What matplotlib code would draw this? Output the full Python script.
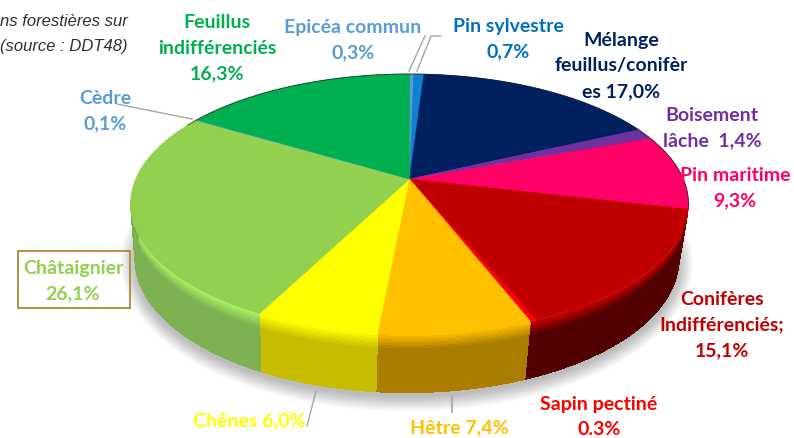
import matplotlib
matplotlib.use("Agg")
import matplotlib.pyplot as plt
import numpy as np
from matplotlib.colors import to_rgb

plt.rcParams["font.family"] = ["Lato", "DejaVu Sans"]

# clockwise from 12 o'clock
categories = ["Epicéa commun", "Pin sylvestre", "Mélange feuillus/conifères", "Boisement lâche",
              "Pin maritime", "Conifères Indifférenciés", "Sapin pectiné", "Hêtre", "Chênes",
              "Châtaignier", "Cèdre", "Feuillus indifférenciés"]
values = [0.3, 0.7, 17.0, 1.4, 9.3, 15.1, 0.3, 7.4, 6.0, 26.1, 0.1, 16.3]
top_colors = ["#5B9BD5", "#0F7FD0", "#002060", "#7030A0", "#FF0066", "#C00000", "#FF0000",
              "#FFC000", "#FFFF00", "#92D050", "#5B9BD5", "#00B050"]
bevel_colors = ["#5B9BD5", "#0F7FD0", "#002060", "#7030A0", "#FF0066", "#C80000", "#C80000",
                "#FFC000", "#FFFF00", "#A8F060", "#5B9BD5", "#00B050"]
side_colors = ["#3A6A95", "#0A5590", "#001540", "#4A2070", "#A00040", "#520000", "#520000",
               "#AA7C00", "#C8BC00", "#7CB050", "#3A6A95", "#007A38"]

labels = [
    ("Feuillus\nindifférenciés\n16,3%", 217, 48, "#00B050"),
    ("Epicéa commun\n0,3%", 353, 40, "#5B9BD5"),
    ("Pin sylvestre\n0,7%", 508, 39, "#0070C0"),
    ("Mélange\nfeuillus/conifèr\nes 17,0%", 621, 66, "#002060"),
    ("Cèdre\n0,1%", 105, 111, "#5B9BD5"),
    ("Boisement\nlâche  1,4%", 712, 128, "#7030A0"),
    ("Pin maritime\n9,3%", 735, 188, "#FF0066"),
    ("Conifères\nIndifférenciés;\n15,1%", 722, 325, "#C00000"),
    ("Châtaignier\n26,1%", 73, 281, "#92D050"),
    ("Chênes 6,0%", 249, 421, "#FFFF00"),
    ("Hêtre 7,4%", 459, 428, "#FFC000"),
    ("Sapin pectiné\n0.3%", 599, 417, "#FF0000"),
]
subtitle = ["ns forestières sur", "(source : DDT48)"]


def rim(angle, cx, cy, a, b, k=0.192):
    # circle seen in perspective, angle in radians clockwise from the back
    u, v = np.sin(angle), np.cos(angle)
    w = 1 + k * v
    return cx + a * u / w, cy - b * v / w


def mix(c1, c2, t):
    c1, c2 = np.array(to_rgb(c1)), np.array(to_rgb(c2))
    return tuple(c1 + (c2 - c1) * t)


fig = plt.figure(figsize=(7.94, 4.39), dpi=100)
ax = fig.add_axes([0, 0, 1, 1])
ax.set_xlim(0, 794)
ax.set_ylim(439, 0)
ax.axis("off")

# soft shadow under the disc
t = np.linspace(0, 2 * np.pi, 200)
for i in range(14):
    ax.fill(407 + (272 + i * 1.1) * np.cos(t), 264 + (134 + i * 1.1) * np.sin(t),
            color="black", alpha=0.018, lw=0)

edges = np.radians(np.concatenate([[0], np.cumsum(values)]) * 3.6)

# side wall: each step covers from its level to the bottom, so no seams
n_bands = 24
for i, (c_bevel, c_side) in enumerate(zip(bevel_colors, side_colors)):
    ang = np.linspace(edges[i], edges[i + 1], max(4, int(values[i] * 10)))
    xt, yt = rim(ang, 409.5, 180, 273.8, 125.2)
    xb, yb = rim(ang, 407, 234, 267, 129)
    for j in range(n_bands):
        f0 = j / n_bands
        col = mix(c_bevel, c_side, min(1, f0 / 0.24))
        xs = np.concatenate([xt + (xb - xt) * f0, xb[::-1]])
        ys = np.concatenate([yt + (yb - yt) * f0, yb[::-1]])
        ax.fill(xs, ys, color=col, lw=0, antialiased=j == 0)

# top face
for i, c_top in enumerate(top_colors):
    ang = np.linspace(edges[i], edges[i + 1], max(4, int(values[i] * 10)))
    x, y = rim(ang, 409.5, 180, 273.8, 125.2)
    ax.fill(np.r_[409.5, x], np.r_[180, y], color=c_top, lw=0.3)

# dark line along the back of the rim
ang = np.radians(np.linspace(-62, 102, 200))
ax.plot(*rim(ang, 409.5, 180, 273.8, 125.2), color="#202020", lw=0.7, alpha=0.7)

# leader lines
leader = "#A6A6A6"
ax.plot([117, 192], [105, 120], color=leader, lw=1)
ax.plot([409, 425], [72, 37], color=leader, lw=1)
ax.plot([417, 431, 441], [72, 37, 37], color=leader, lw=1)
ax.plot([316, 307], [392, 427], color=leader, lw=1)
ax.plot([452, 452], [397, 413], color=leader, lw=1.2)

# box around Châtaignier
ax.add_patch(plt.Rectangle((18, 252), 112, 57, fill=False, ec="#A98B2F", lw=1.3))

for text, x, y, col in labels:
    ax.text(x, y, text, color=col, ha="center", va="center", fontweight="bold",
            fontsize=14, linespacing=1.6)

for text, y in zip(subtitle, [21, 46]):
    ax.text(128, y, text, ha="right", va="center", style="italic", fontsize=12,
            color="#303030", family="Liberation Sans")

fig.savefig("out.png", dpi=100)
